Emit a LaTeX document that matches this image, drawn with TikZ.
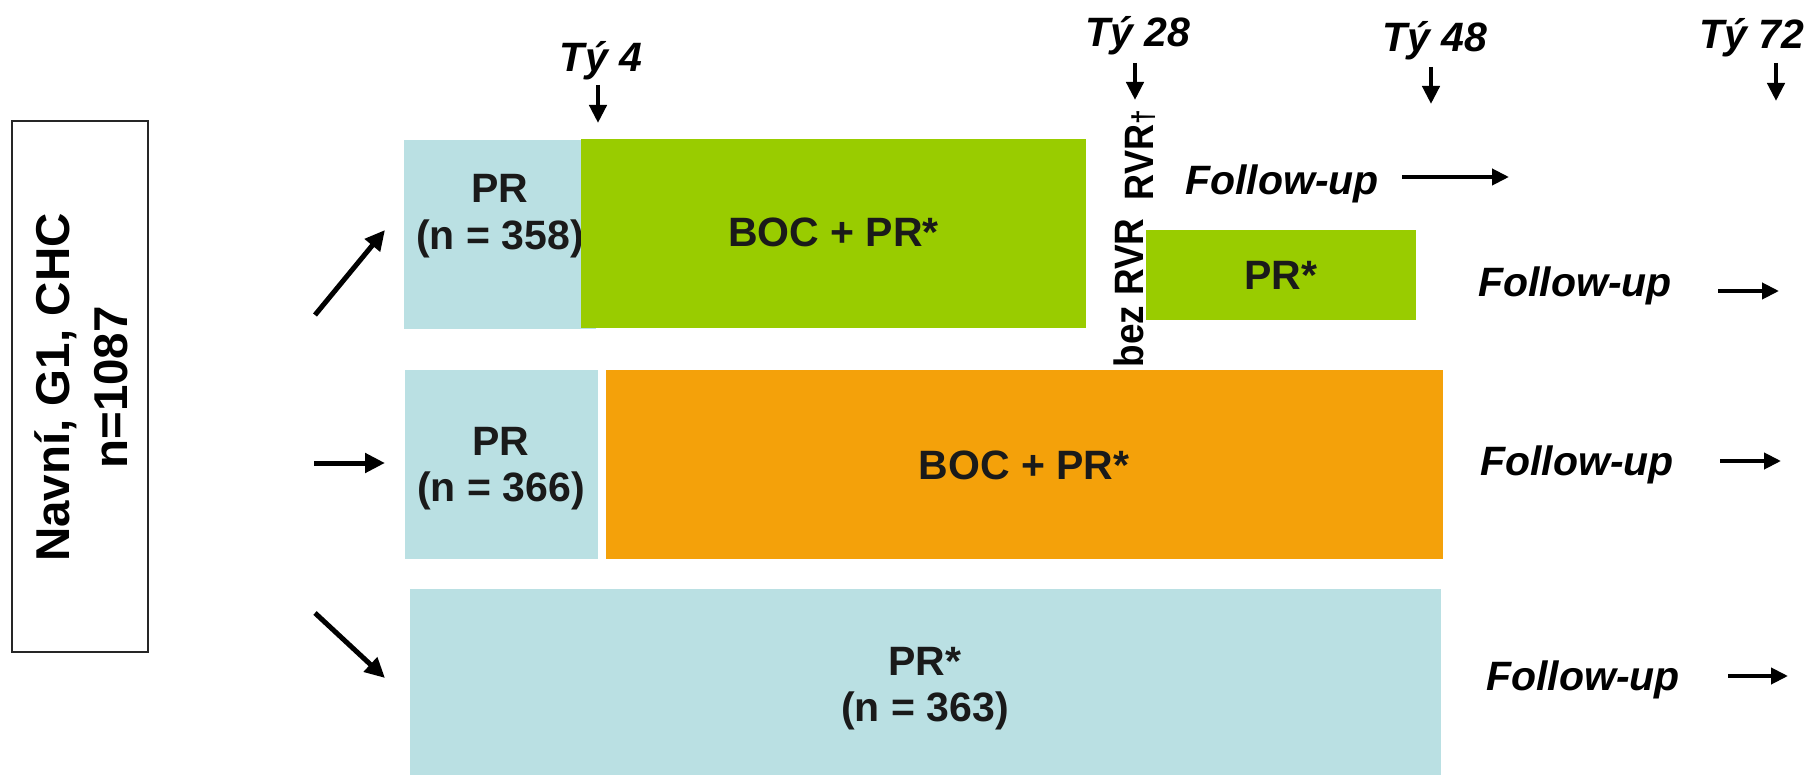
\documentclass[tikz,border=0pt]{standalone}
\usepackage{fontspec}
\setmainfont{Liberation Sans}
\usepackage{graphicx}
\usetikzlibrary{arrows.meta}
\definecolor{pblue}{RGB}{186,224,227}
\definecolor{pgreen}{RGB}{153,204,0}
\definecolor{porange}{RGB}{244,161,10}
\definecolor{ptext}{RGB}{26,26,26}
\begin{document}
\begin{tikzpicture}[x=1pt,y=-1pt,
  box/.style={draw=none, inner sep=0pt, outer sep=0pt, anchor=north west},
  lbl/.style={inner sep=0pt, font=\fontsize{41}{46.5}\selectfont\bfseries, text=ptext, align=center},
  slbl/.style={inner sep=0pt, font=\fontsize{41}{46.5}\selectfont\bfseries, text=ptext, anchor=base},
  tlbl/.style={inner sep=0pt, font=\fontsize{41}{46}\selectfont\bfseries\itshape, anchor=base},
  rlbl/.style={inner sep=0pt, font=\fontsize{41}{46}\selectfont\bfseries, anchor=base, rotate=90},
  bigarr/.style={line width=5pt, -{Triangle[length=20pt,width=19pt]}},
  darr/.style={line width=4.3pt, -{Triangle[length=18pt,width=17pt]}},
  farr/.style={line width=4pt, -{Triangle[length=17pt,width=16pt]}},
]
\useasboundingbox (0,0) rectangle (1810,775);

% left box
\node[box, draw=black!85, line width=2pt, minimum width=136pt, minimum height=531pt] (pop) at (12,121) {};
\node[inner sep=0pt, rotate=90, align=center, font=\fontsize{47.5}{58}\selectfont\bfseries] (poptxt) at (81,387.5) {Navní, G1, CHC\\n=1087};

% row 1
\node[box, fill=pblue, minimum width=192pt, minimum height=189pt] (pr1) at (404,140) {};
\node[lbl] (pr1t) at (500,216) {PR\\(n = 358)};
\node[box, fill=pgreen, minimum width=505pt, minimum height=189pt] (boc1) at (581,139) {};
\node[slbl] (boc1t) at (833.5,247) {BOC + PR*};
\node[box, fill=pgreen, minimum width=270pt, minimum height=90pt] (pr1b) at (1146,230) {};
\node[slbl] (pr1bt) at (1281,290) {PR*};

% row 2
\node[box, fill=pblue, minimum width=193pt, minimum height=189pt] (pr2) at (405,370) {};
\node[lbl] (pr2t) at (501,468.5) {PR\\(n = 366)};
\node[box, fill=porange, minimum width=837pt, minimum height=189pt] (boc2) at (606,370) {};
\node[slbl] (boc2t) at (1024,479) {BOC + PR*};

% row 3
\node[box, fill=pblue, minimum width=1031pt, minimum height=190pt] (pr3) at (410,589) {};
\node[lbl] (pr3t) at (925,688.5) {PR*\\(n = 363)};

% RVR labels
\node[rlbl] (rvr) at (1153,155) {\scalebox{0.88}[1]{RVR{\fontsize{30}{30}\selectfont †}}};
\node[rlbl] (bezrvr) at (1143,293) {\scalebox{0.9}[1]{bez RVR}};

% week labels
\node[tlbl] (t4) at (601,72) {Tý 4};
\node[tlbl] (t28) at (1138,47) {Tý 28};
\node[tlbl] (t48) at (1435,52) {Tý 48};
\node[tlbl] (t72) at (1752,49) {Tý 72};
\coordinate (t4a) at (598,85);   \coordinate (t4b) at (598,123);
\coordinate (t28a) at (1135,63); \coordinate (t28b) at (1135,100);
\coordinate (t48a) at (1431,67); \coordinate (t48b) at (1431,104);
\coordinate (t72a) at (1776,63); \coordinate (t72b) at (1776,101);
\draw[darr] (t4a) -- (t4b);
\draw[darr] (t28a) -- (t28b);
\draw[darr] (t48a) -- (t48b);
\draw[darr] (t72a) -- (t72b);

% follow-up
\node[tlbl] (fu1) at (1282,195) {Follow-up};
\node[tlbl] (fu2) at (1575,297) {Follow-up};
\node[tlbl] (fu3) at (1577,475) {Follow-up};
\node[tlbl] (fu4) at (1583,690) {Follow-up};
\coordinate (fu1a) at (1402,177); \coordinate (fu1b) at (1509,177);
\coordinate (fu2a) at (1718,291); \coordinate (fu2b) at (1779,291);
\coordinate (fu3a) at (1720,461); \coordinate (fu3b) at (1781,461);
\coordinate (fu4a) at (1728,676); \coordinate (fu4b) at (1788,676);
\draw[farr] (fu1a) -- (fu1b);
\draw[farr] (fu2a) -- (fu2b);
\draw[farr] (fu3a) -- (fu3b);
\draw[farr] (fu4a) -- (fu4b);

% randomisation arrows
\coordinate (r1a) at (315,315); \coordinate (r1b) at (385,230);
\coordinate (r2a) at (314,463); \coordinate (r2b) at (385,463);
\coordinate (r3a) at (315,613); \coordinate (r3b) at (385,678);
\draw[bigarr] (r1a) -- (r1b);
\draw[bigarr] (r2a) -- (r2b);
\draw[bigarr] (r3a) -- (r3b);
\end{tikzpicture}
\end{document}
